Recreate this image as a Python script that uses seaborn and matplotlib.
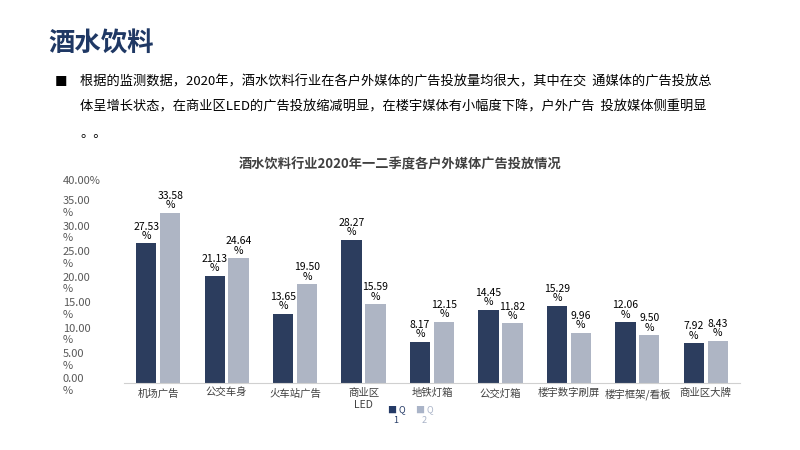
import matplotlib
matplotlib.use("Agg")
import matplotlib.pyplot as plt
import seaborn as sns
import pandas as pd

plt.rcParams["font.family"] = ["Noto Sans CJK SC"]

categories = ["机场广告", "公交车身", "火车站广告", "商业区\nLED", "地铁灯箱", "公交灯箱", "楼宇数字刷屏", "楼宇框架/看板", "商业区大牌"]
q1 = [27.53, 21.13, 13.65, 28.27, 8.17, 14.45, 15.29, 12.06, 7.92]
q2 = [33.58, 24.64, 19.50, 15.59, 12.15, 11.82, 9.96, 9.50, 8.43]
y_ticks = [0, 5, 10, 15, 20, 25, 30, 35, 40]

df = pd.DataFrame({"cat": categories * 2, "val": q1 + q2,
                   "s": ["Q1"] * len(q1) + ["Q2"] * len(q2)})

fig = plt.figure(figsize=(8, 4.5), dpi=100)
fig.patch.set_facecolor("white")
fig.text(0.06, 0.885, "酒水饮料", fontsize=19, fontweight="bold", color="#1f3864")
fig.text(0.068, 0.81, "■", fontsize=9, color="black")
fig.text(0.1, 0.81, "根据的监测数据，2020年，酒水饮料行业在各户外媒体的广告投放量均很大，其中在交  通媒体的广告投放总", fontsize=9.5)
fig.text(0.1, 0.755, "体呈增长状态，在商业区LED的广告投放缩减明显，在楼宇媒体有小幅度下降，户外广告  投放媒体侧重明显", fontsize=9.5)
fig.text(0.1, 0.695, "。。", fontsize=9.5)
fig.text(0.5, 0.625, "酒水饮料行业2020年一二季度各户外媒体广告投放情况", fontsize=9.5,
         fontweight="bold", color="#404040", ha="center")

ax = fig.add_axes([0.155, 0.148, 0.77, 0.452])
sns.barplot(data=df, x="cat", y="val", hue="s", palette=["#243a66", "#aab4c8"],
            width=0.7, gap=0.15, ax=ax, legend=False)
ax.set_ylim(0, 40)
ax.set_yticks(y_ticks)
ax.set_yticklabels([f"{v:.2f}\n%" if v < 40 else "40.00%" for v in y_ticks], fontsize=8,
                   color="#595959", ha="left")
ax.tick_params(axis="y", length=0, pad=44)
ax.set_xlabel(""); ax.set_ylabel("")
ax.tick_params(axis="x", labelsize=7.5, colors="#404040", length=0)
for sp in ["top", "right", "left"]:
    ax.spines[sp].set_visible(False)
ax.spines["bottom"].set_color("#d0d0d0")
for cont in ax.containers:
    for b in cont:
        h = b.get_height()
        ax.text(b.get_x() + b.get_width() / 2, h + 0.5, f"{h:.2f}\n%", ha="center",
                va="bottom", fontsize=7.5, linespacing=0.9)
fig.text(0.485, 0.06, "■ Q\n   1", fontsize=6.5, color="#243a66")
fig.text(0.52, 0.06, "■ Q\n   2", fontsize=6.5, color="#aab4c8")
fig.savefig("out.png", dpi=100)
